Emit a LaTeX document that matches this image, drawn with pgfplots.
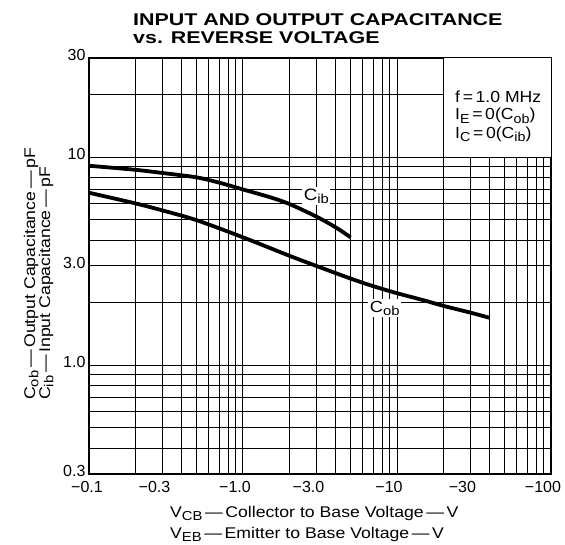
\documentclass[border=0pt]{standalone}
\usepackage{fontspec}
\setmainfont{Liberation Sans}
\newfontfamily\titlefont[FakeStretch=1.26]{Liberation Sans}
\newfontfamily\labelfont[FakeStretch=1.14]{Liberation Sans}
\newfontfamily\boxfont[FakeStretch=1.1]{Liberation Sans}
\usepackage{pgfplots}
\pgfplotsset{compat=1.18}
\newcommand\sub[1]{\raisebox{-0.4ex}{\fontsize{13}{13}\selectfont #1}}
\begin{document}
\begin{tikzpicture}[x=1pt,y=1pt]
\path[use as bounding box] (0,0) rectangle (565,545);
\begin{axis}[
  at={(89pt,71pt)}, anchor=south west,
  scale only axis, width=462pt, height=416pt,
  xmode=log, ymode=log,
  xmin=0.1, xmax=100, ymin=0.3, ymax=30,
  xtick={0.1,0.3,1,3,10,30,100},
  xticklabels={\hspace*{12pt}−0.1,−0.3,−1.0,−3.0,−10,−30,−100},
  ytick={0.3,1,3,10,30},
  yticklabels={0.3,1.0,3.0,10,30},
  minor xtick={0.2,0.3,0.4,0.5,0.6,0.7,0.8,0.9,1,2,3,4,5,6,7,8,9,10,20,30,40,50,60,70,80,90},
  minor ytick={0.4,0.5,0.6,0.7,0.8,0.9,1,2,3,4,5,6,7,8,9,10,20},
  xminorgrids=true, yminorgrids=true,
  xmajorgrids=false, ymajorgrids=false,
  major tick length=0pt, minor tick length=0pt,
  minor grid style={black, line width=1pt},
  axis line style={line width=2.2pt},
  tick label style={font=\fontsize{16}{16}\selectfont},
  xticklabel style={yshift=-4pt, xshift=-8pt},
  yticklabel style={yshift=3pt},
  /pgf/number format/assume math mode=true,
]
\fill[white] (axis cs:20,10) rectangle (axis cs:100,30);
\draw[black, line width=1pt] (axis cs:20,30) -- (axis cs:20,10) -- (axis cs:100,10);
\addplot[black, line width=3.8pt, smooth, line cap=butt] coordinates {
  (0.1,9.1) (0.2,8.7) (0.3,8.4) (0.5,8.0) (0.7,7.55) (1,7.0) (1.5,6.42) (2,5.96) (3,5.18) (4,4.6) (5,4.12)
};
\addplot[black, line width=3.8pt, smooth, line cap=butt] coordinates {
  (0.1,6.75) (0.2,6.0) (0.3,5.55) (0.5,4.98) (1,4.12) (2,3.36) (3,3.0) (5,2.61) (7,2.40) (10,2.22) (15,2.05) (20,1.93) (30,1.79) (40,1.69)
};
\node[anchor=west, fill=white, inner sep=1.5pt, font=\labelfont\fontsize{16.5}{16.5}\selectfont] at (axis cs:2.42,6.5) {C\sub{ib}};
\node[anchor=west, fill=white, inner sep=1.5pt, font=\labelfont\fontsize{16}{16}\selectfont] at (axis cs:6.5,1.88) {C\sub{ob}};
\end{axis}
% title
\node[anchor=base west, inner sep=0pt, font=\titlefont\bfseries\fontsize{17}{17}\selectfont] at (133,519.7) {INPUT AND OUTPUT CAPACITANCE};
\node[anchor=base west, inner sep=0pt, font=\titlefont\bfseries\fontsize{17}{17}\selectfont] at (133,501) {vs. REVERSE VOLTAGE};
% condition box text
\node[anchor=base west, inner sep=0pt, font=\boxfont\fontsize{16}{16}\selectfont] at (455,442.7) {f\,=\,1.0 MHz};
\node[anchor=base west, inner sep=0pt, font=\boxfont\fontsize{16}{16}\selectfont] at (455,425) {I\sub{E}\,=\,0(C\sub{ob})};
\node[anchor=base west, inner sep=0pt, font=\boxfont\fontsize{16}{16}\selectfont] at (455,406.7) {I\sub{C}\,=\,0(C\sub{ib})};
% x label
\node[anchor=base west, inner sep=0pt, font=\labelfont\fontsize{15.5}{15.5}\selectfont] at (170,27.5) {V\sub{CB}\,—\,Collector to Base Voltage\,—\,V};
\node[anchor=base west, inner sep=0pt, font=\labelfont\fontsize{15.5}{15.5}\selectfont] at (170,6.5) {V\sub{EB}\,—\,Emitter to Base Voltage\,—\,V};
% y label
\node[rotate=90, anchor=base west, inner sep=0pt, font=\labelfont\fontsize{15.5}{15.5}\selectfont] at (35,145) {C\sub{ob}\,—\,Output Capacitance\,—\,pF};
\node[rotate=90, anchor=base west, inner sep=0pt, font=\labelfont\fontsize{15.5}{15.5}\selectfont] at (50,145) {C\sub{ib}\,—\,Input Capacitance\,—\,pF};
\end{tikzpicture}
\end{document}
